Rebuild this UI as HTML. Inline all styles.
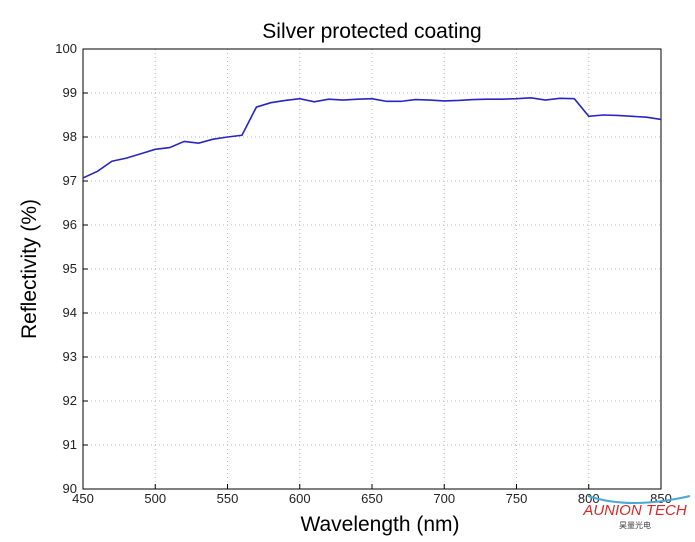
<!DOCTYPE html>
<html><head><meta charset="utf-8"><style>
body{margin:0;background:#fff;width:695px;height:537px;overflow:hidden;font-family:"Liberation Sans",Arial,sans-serif}
</style></head><body>
<svg width="695" height="537">
<text x="372" y="38" font-size="21" text-anchor="middle">Silver protected coating</text>
<g id="grid"></g>
<rect x="83" y="49" width="578" height="440" fill="none" stroke="#000" stroke-width="1"/>
<g id="ticks" font-size="13" fill="#222"></g>
<path id="line" fill="none" stroke="#2727c0" stroke-width="1.6"/>
<text x="380" y="531" font-size="21" text-anchor="middle">Wavelength (nm)</text>
<text transform="translate(36,269) rotate(-90)" font-size="21" text-anchor="middle">Reflectivity (%)</text>
<g>
<path d="M588 496 Q630 510 690 496" stroke="#4aa8d8" stroke-width="2" fill="none"/>
<text x="635" y="515" font-size="15" font-style="italic" fill="#d52a2a" text-anchor="middle">AUNION TECH</text>
<text x="635" y="528" font-size="8" fill="#444" text-anchor="middle" font-family="'Noto Sans CJK SC',sans-serif">昊量光电</text>
</g>
</svg>
<script>
const wavelengths=[450,460,470,480,490,500,510,520,530,540,550,560,570,580,590,600,610,620,630,640,650,660,670,680,690,700,710,720,730,740,750,760,770,780,790,800,810,820,830,840,850];
const reflectivity=[97.07,97.22,97.45,97.52,97.62,97.72,97.76,97.9,97.86,97.95,98.0,98.04,98.68,98.78,98.83,98.87,98.8,98.86,98.84,98.86,98.87,98.81,98.81,98.85,98.84,98.82,98.83,98.85,98.86,98.86,98.87,98.89,98.84,98.88,98.87,98.47,98.5,98.49,98.47,98.45,98.4];
const xTicks=[450,500,550,600,650,700,750,800,850];
const yTicks=[90,91,92,93,94,95,96,97,98,99,100];
const NS="http://www.w3.org/2000/svg";
const X=v=>83+(v-450)/400*578, Y=v=>489-(v-90)/10*440;
const grid=document.getElementById('grid'), ticks=document.getElementById('ticks');
function mk(tag,attrs,parent,text){const e=document.createElementNS(NS,tag);for(const k in attrs)e.setAttribute(k,attrs[k]);if(text!==undefined)e.textContent=text;parent.appendChild(e);return e;}
xTicks.forEach(t=>{
 const g=mk('line',{x1:X(t),x2:X(t),y1:49,y2:489,stroke:'#bbb','stroke-dasharray':'1,3'},grid);
 
 
 mk('line',{x1:X(t),x2:X(t),y1:489,y2:484,stroke:'#000'},ticks);
 const l=mk('text',{x:X(t),y:503,'text-anchor':'middle'},ticks,t);
 
 
});
yTicks.forEach(t=>{
 const g=mk('line',{x1:83,x2:661,y1:Y(t),y2:Y(t),stroke:'#bbb','stroke-dasharray':'1,3'},grid);
 
 
 mk('line',{x1:83,x2:88,y1:Y(t),y2:Y(t),stroke:'#000'},ticks);
 const l=mk('text',{x:77,y:Y(t)+4,'text-anchor':'end'},ticks,t);
 
 
});
document.getElementById('line').setAttribute('d',wavelengths.map((w,i)=>(i?'L':'M')+X(w)+' '+Y(reflectivity[i])).join(' '));
</script>
</body></html>
